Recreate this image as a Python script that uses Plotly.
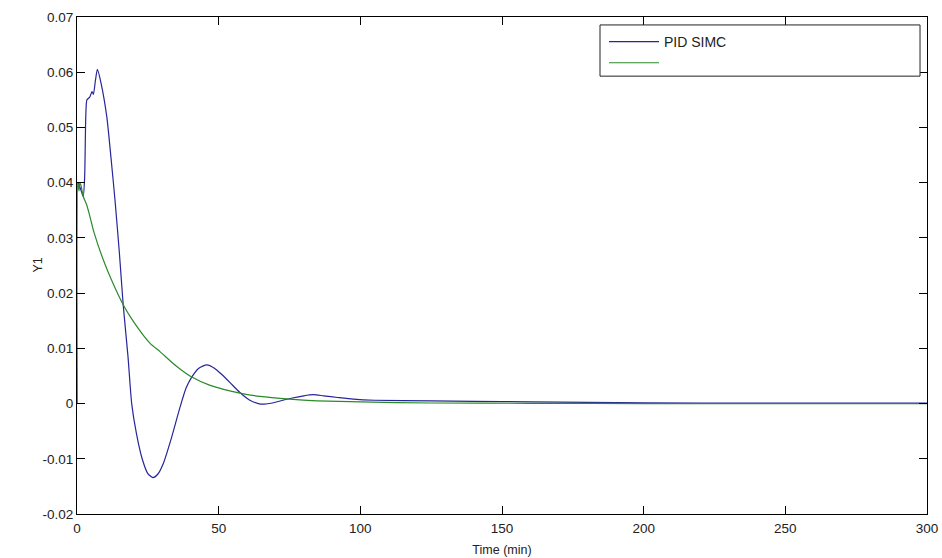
import plotly.graph_objects as go

# PID SIMC response (blue)
t_pid = [0, 0.3, 0.8, 1.5, 2.2, 2.7, 3.1, 3.5, 4.5, 5.3, 5.8, 6.5, 7.2, 8.5, 10.5, 12.0, 13.4, 15.0, 16.3,
         18.0, 19.3, 21.0, 23.0, 25.0, 26.8, 28.5, 30.5, 33.0, 36.4, 38.5, 40.5, 43.0, 45.8, 48.5, 51.0,
         54.0, 57.5, 61.0, 64.0, 66.0, 69.0, 72.0, 76.0, 80.0, 83.4, 87.0, 92.0, 97.5, 105.0, 125.0,
         140.0, 160.0, 180.0, 220.0, 260.0, 300.0]
y_pid = [0.0, 0.040, 0.0395, 0.0385, 0.0375, 0.041, 0.052, 0.055, 0.0555, 0.0565, 0.056, 0.0585, 0.0605,
         0.058, 0.052, 0.0445, 0.0369, 0.027, 0.0179, 0.0085, 0.0, -0.0055, -0.0100, -0.0127, -0.0134,
         -0.0128, -0.0108, -0.0068, -0.0006, 0.0028, 0.0048, 0.0064, 0.0070, 0.0064, 0.0053, 0.0038,
         0.0020, 0.0006, 0.0000, -0.0001, 0.0001, 0.0005, 0.0010, 0.0014, 0.0016, 0.0014, 0.0011, 0.0008,
         0.0006, 0.0005, 0.0004, 0.0003, 0.0002, 0.0001, 0.0001, 0.0001]

# second response (green)
t_ref = [0, 0.3, 0.7, 1.0, 1.4, 2.2, 3.4, 4.5, 6.0, 9.3, 12.5, 16.3, 20.0, 25.8, 29.3, 35.0, 40.5, 47.0,
         57.5, 64.6, 75.0, 84.6, 100.0, 125.0, 160.0, 200.0, 300.0]
y_ref = [0.0, 0.040, 0.0385, 0.040, 0.0395, 0.0375, 0.0360, 0.0340, 0.0310, 0.0260, 0.0220, 0.0179,
         0.0148, 0.0109, 0.0094, 0.0068, 0.0048, 0.0033, 0.0019, 0.0013, 0.0008, 0.0005, 0.0003,
         0.0001, 0.00005, 0.0, 0.0]

x_ticks = [0, 50, 100, 150, 200, 250, 300]
y_ticks = [-0.02, -0.01, 0, 0.01, 0.02, 0.03, 0.04, 0.05, 0.06, 0.07]
y_tick_text = ["-0.02", "-0.01", "0", "0.01", "0.02", "0.03", "0.04", "0.05", "0.06", "0.07"]

FONT = "Liberation Sans, Arial, sans-serif"

fig = go.Figure()
fig.add_trace(go.Scatter(x=t_pid, y=y_pid, mode="lines", name="PID SIMC",
                         line=dict(color="#26269a", width=1.2, shape="spline", smoothing=0.6)))
fig.add_trace(go.Scatter(x=t_ref, y=y_ref, mode="lines", name=" ",
                         line=dict(color="#2a8a2a", width=1.2, shape="spline", smoothing=0.6)))

axis_common = dict(showline=True, linecolor="#000000", linewidth=1, mirror="ticks",
                   ticks="inside", ticklen=8, tickcolor="#000000", showgrid=False, zeroline=False,
                   automargin=False,
                   tickfont=dict(family=FONT, size=13.5, color="#222222"))

# legend frame (paper coordinates)
fig.add_shape(type="rect", xref="paper", yref="paper", x0=0.6153, x1=0.9918, y0=0.881, y1=0.984,
              line=dict(color="#222222", width=1), fillcolor="white", layer="above")

# y-axis label
fig.add_annotation(text="Y1", xref="paper", yref="paper", x=-0.047, y=0.5, showarrow=False,
                   textangle=-90, font=dict(family=FONT, size=12.5, color="#222222"),
                   xanchor="center", yanchor="middle")

fig.update_layout(
    width=942, height=558,
    margin=dict(l=77, r=15, t=17, b=44),
    paper_bgcolor="white", plot_bgcolor="white",
    font=dict(family=FONT, size=12, color="#222222"),
    xaxis=dict(range=[0, 300], tickvals=x_ticks, ticklabelstandoff=2,
               title=dict(text="Time (min)", standoff=10, font=dict(size=12.5)), **axis_common),
    yaxis=dict(range=[-0.02, 0.07], tickvals=y_ticks, ticktext=y_tick_text, **axis_common),
    legend=dict(x=0.620, y=0.982, xanchor="left", yanchor="top", bgcolor="rgba(0,0,0,0)",
                borderwidth=0, font=dict(size=14, color="#222222"),
                itemwidth=50, tracegroupgap=0),
    showlegend=True,
)

fig.write_html("out.html")
